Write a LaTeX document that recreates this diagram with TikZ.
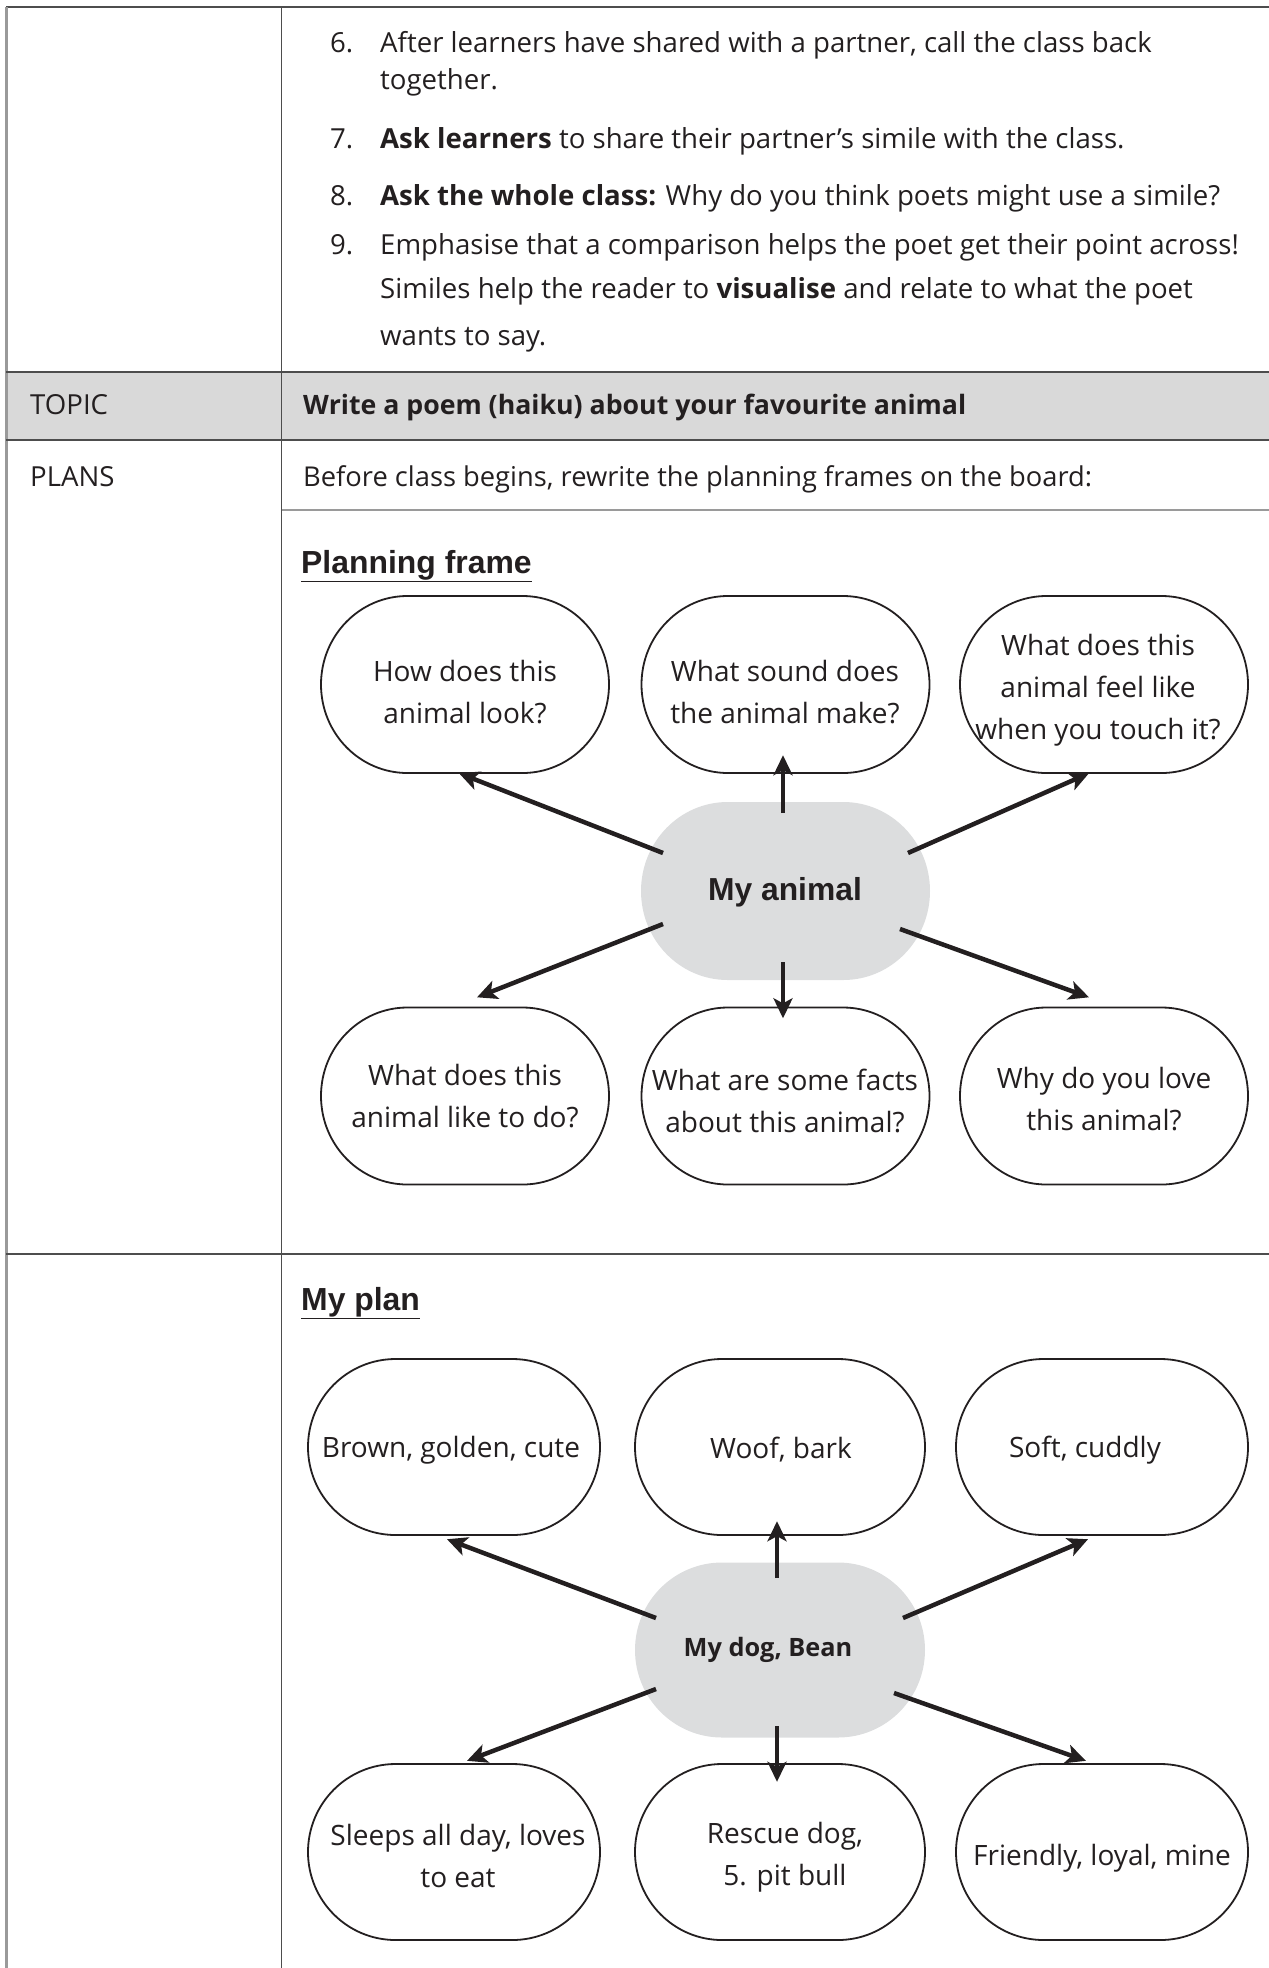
\documentclass[tikz,border=0pt]{standalone}
\usepackage{fontspec}
\setmainfont{Open Sans}
\newfontfamily\arialf{Liberation Sans}
\usetikzlibrary{arrows.meta,calc}
\definecolor{ink}{HTML}{231F20}
\definecolor{rowgray}{HTML}{D9D9D9}
\definecolor{blobgray}{HTML}{DCDDDE}
\definecolor{rulec}{HTML}{4D4D4D}
\definecolor{lrule}{HTML}{9A9A9A}
% #1 cx, #2 cy, #3 half width, #4 half height, #5 style
\newcommand{\bubshape}[5]{%
  \pgfmathsetmacro{\ra}{0.6*#3}%
  \pgfmathsetmacro{\fa}{#3-\ra}%
  \pgfmathsetmacro{\ka}{0.5523*\ra}%
  \pgfmathsetmacro{\kb}{0.5523*#4}%
  \path[#5,shift={(#1,#2)}] (-\fa,-#4) -- (\fa,-#4)
    .. controls (\fa+\ka,-#4) and (#3,-\kb) .. (#3,0)
    .. controls (#3,\kb) and (\fa+\ka,#4) .. (\fa,#4) -- (-\fa,#4)
    .. controls (-\fa-\ka,#4) and (-#3,\kb) .. (-#3,0)
    .. controls (-#3,-\kb) and (-\fa-\ka,-#4) .. (-\fa,-#4) -- cycle;}
% #1 name, #2 cx, #3 cy, #4 w, #5 h, #6 style
\newcommand{\bubble}[6]{%
  \pgfmathsetmacro{\hw}{#4/2}\pgfmathsetmacro{\hh}{#5/2}%
  \bubshape{#2}{#3}{\hw}{\hh}{#6}%
  \node[inner sep=0, minimum width=#4pt, minimum height=#5pt] (#1) at (#2,#3) {};}
\begin{document}
\begin{tikzpicture}[x=1pt,y=-1pt,
  body/.style={anchor=base west, inner sep=0, text=ink, font=\fontsize{27.6}{33}\selectfont},
  bxt/.style={align=center, inner sep=0, text=ink, font=\fontsize{28}{42}\selectfont},
  bub/.style={draw=ink, line width=1.8pt, fill=white},
  blob/.style={fill=blobgray},
  heading/.style={anchor=base west, inner sep=0, text=ink, font=\arialf\bfseries\fontsize{31.9}{38}\selectfont},
  arr/.style={draw=ink, line width=4.5pt, -{Stealth[length=20pt,width=19pt,inset=5pt]}}]
\useasboundingbox (0,0) rectangle (1269,1968);
% table
\fill[rowgray] (6,372) rectangle (1269,440);
\draw[rulec, line width=2pt] (6,7) -- (1269,7);
\draw[lrule, line width=3pt] (6,7) -- (6,1968);
\draw[rulec, line width=1.5pt] (281.7,7) -- (281.7,1968);
\draw[rulec, line width=2pt] (6,372) -- (1269,372);
\draw[rulec, line width=2pt] (6,440) -- (1269,440);
\draw[lrule, line width=2pt] (281.7,510) -- (1269,510);
\draw[rulec, line width=1.5pt] (6,1254) -- (1269,1254);
% row 1 text
\node[body] (n6) at (330,52) {6.};
\node[body] (l6a) at (380,52) {After learners have shared with a partner, call the class back};
\node[body] (l6b) at (380,89) {together.};
\node[body] (n7) at (330,148) {7.};
\node[body] (l7) at (380,148) {\textbf{Ask learners} to share their partner’s simile with the class.};
\node[body] (n8) at (330,205) {8.};
\node[body] (l8) at (380,205) {\textbf{Ask the whole class:} Why do you think poets might use a simile?};
\node[body] (n9) at (330,254) {9.};
\node[body] (l9a) at (380,254) {Emphasise that a comparison helps the poet get their point across!};
\node[body] (l9b) at (380,298) {Similes help the reader to \textbf{visualise} and relate to what the poet};
\node[body] (l9c) at (380,345) {wants to say.};
% topic / plans
\node[body] (topic) at (30,414) {TOPIC};
\node[body,font=\bfseries\fontsize{26.7}{32}\selectfont] (topict) at (303,414) {Write a poem (haiku) about your favourite animal};
\node[body] (plans) at (30,486) {PLANS};
\node[body,font=\fontsize{27.3}{33}\selectfont] (planst) at (303,486) {Before class begins, rewrite the planning frames on the board:};
% planning frame
\node[heading] (pfh) at (301,573) {\underline{Planning frame}};
\bubble{b1}{465}{684.5}{288}{177}{bub}
\bubble{b2}{785.5}{684.5}{288}{177}{bub}
\bubble{b3}{1104}{684.5}{288}{177}{bub}
\bubble{b4}{465}{1096}{288}{177}{bub}
\bubble{b5}{785.5}{1096}{288}{177}{bub}
\bubble{b6}{1104}{1096}{288}{177}{bub}
\bubble{c1}{785.5}{891}{289}{178}{blob}
\node[bxt] (t1) at (465,692) {How does this\\animal look?};
\node[bxt] (t2) at (785,692) {What sound does\\the animal make?};
\node[bxt] (t3) at (1098,690) {What does this\\animal feel like\\when you touch it?};
\node[bxt] (t4) at (465,1096) {What does this\\animal like to do?};
\node[bxt] (t5) at (785,1101) {What are some facts\\about this animal?};
\node[bxt] (t6) at (1104,1099) {Why do you love\\this animal?};
\node[inner sep=0, text=ink, font=\arialf\bfseries\fontsize{31.8}{38}\selectfont] (ct1) at (785,892) {My animal};
\draw[arr] ([shift={(-122.5,-38)}]c1.center) -- ([shift={(-6,0)}]b1.south);
\draw[arr] ([shift={(-2.5,-78)}]c1.center) -- ([shift={(-2.5,-18)}]b2.south);
\draw[arr] ([shift={(122.5,-38)}]c1.center) -- ([shift={(-15,0)}]b3.south);
\draw[arr] ([shift={(-122.5,33)}]c1.center) -- ([shift={(12,-10)}]b4.north);
\draw[arr] ([shift={(-2.5,71)}]c1.center) -- ([shift={(-2.5,11)}]b5.north);
\draw[arr] ([shift={(114.5,38)}]c1.center) -- ([shift={(-15,-10)}]b6.north);
% my plan
\node[heading] (mph) at (301,1310) {\underline{My plan}};
\bubble{d1}{454}{1447}{292}{176}{bub}
\bubble{d2}{780}{1447}{290}{176}{bub}
\bubble{d3}{1102}{1447}{292}{176}{bub}
\bubble{d4}{454}{1852}{292}{176}{bub}
\bubble{d5}{780}{1852}{290}{176}{bub}
\bubble{d6}{1102}{1852}{292}{176}{bub}
\bubble{c2}{780}{1650}{290}{175}{blob}
\node[bxt] (u1) at (451,1450) {Brown, golden, cute};
\node[bxt] (u2) at (781,1450) {Woof, bark};
\node[bxt] (u3) at (1085,1450) {Soft, cuddly};
\node[bxt] (u4) at (458,1856) {Sleeps all day, loves\\to eat};
\node[bxt] (u5) at (785,1857) {Rescue dog,\\5. pit bull};
\node[bxt] (u6) at (1102,1858) {Friendly, loyal, mine};
\node[inner sep=0, text=ink, font=\bfseries\fontsize{25.3}{30}\selectfont] (ct2) at (768,1650) {My dog, Bean};
\draw[arr] ([shift={(-124,-32)}]c2.center) -- ([shift={(-7,4)}]d1.south);
\draw[arr] ([shift={(-3,-72)}]c2.center) -- ([shift={(-3,-14)}]d2.south);
\draw[arr] ([shift={(123,-32)}]c2.center) -- ([shift={(-14,4)}]d3.south);
\draw[arr] ([shift={(-124,39)}]c2.center) -- ([shift={(13,-3)}]d4.north);
\draw[arr] ([shift={(-3,76)}]c2.center) -- ([shift={(-3,18)}]d5.north);
\draw[arr] ([shift={(114,43)}]c2.center) -- ([shift={(-16,-3)}]d6.north);
\end{tikzpicture}
\end{document}
